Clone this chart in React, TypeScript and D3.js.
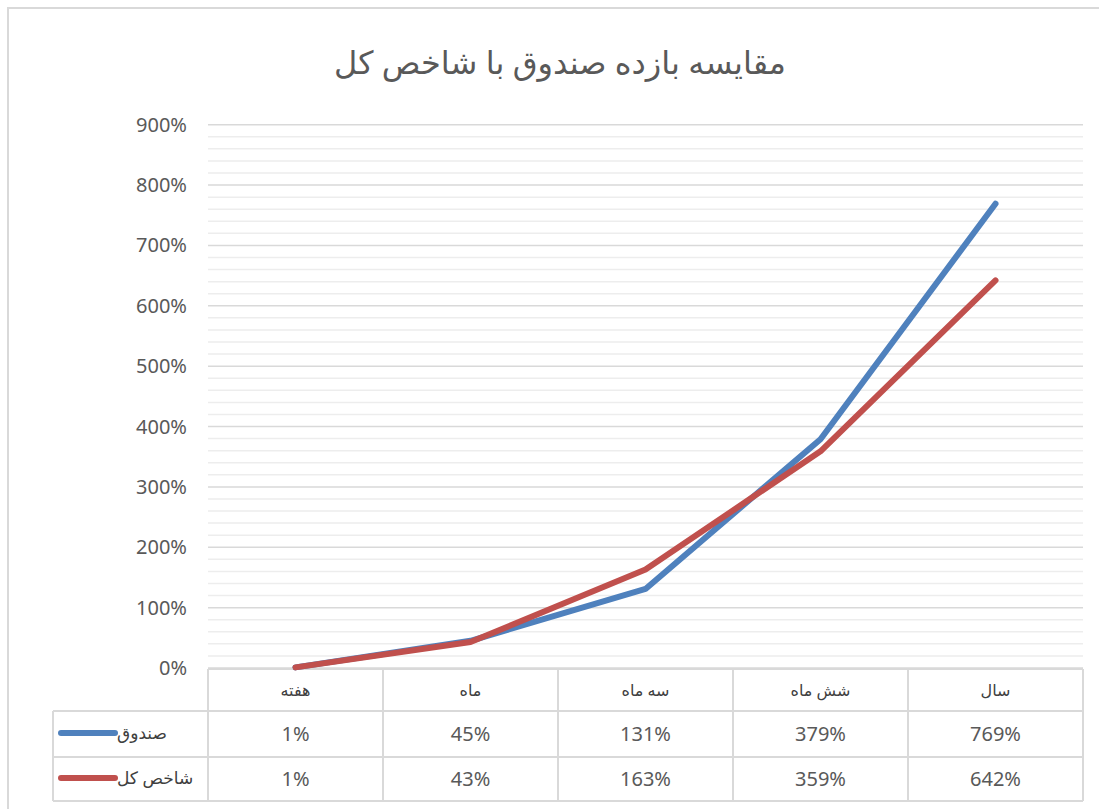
import * as d3 from "d3";
import React from "react";

const categories = ["هفته", "ماه", "سه ماه", "شش ماه", "سال"];
const fundValues = [1, 45, 131, 379, 769];
const indexValues = [1, 43, 163, 359, 642];
const seriesNames = ["صندوق", "شاخص کل"];
const seriesColors = ["#4f81bd", "#c0504d"];
const yTicks = [0, 100, 200, 300, 400, 500, 600, 700, 800, 900];
const title = "مقایسه بازده صندوق با شاخص کل";

const W = 1099;
const H = 809;
const plotLeft = 208;
const plotRight = 1083;
const plotTop = 124.7;
const plotBottom = 668;
const tableLeft = 53;
const rowEdges = [669, 711, 757, 801];

const font = "'Noto Sans', 'DejaVu Sans', sans-serif";

const App: React.FC = () => {
    const x = d3
        .scaleBand<string>()
        .domain(categories)
        .range([plotLeft, plotRight]);

    const y = d3.scaleLinear().domain([0, 900]).range([plotBottom, plotTop]);

    const minorTicks = d3.range(0, 901, 20).filter((v) => v % 100 !== 0);

    const line = d3
        .line<number>()
        .x((_, i) => (x(categories[i]) as number) + x.bandwidth() / 2)
        .y((d) => y(d));

    const series = [fundValues, indexValues];

    return (
        <svg
            width={W}
            height={H}
            style={{ position: "absolute", left: 0, top: 0, background: "#fff" }}
        >
            <rect x={8} y={8} width={W} height={H} fill="#fff" stroke="#d9d9d9" strokeWidth={2} />

            <text
                x={560}
                y={74}
                textAnchor="middle"
                fontSize={32}
                fill="#595959"
                fontFamily={font}
                direction="rtl"
            >
                {title}
            </text>

            {minorTicks.map((t) => (
                <line key={"m" + t} x1={plotLeft} x2={plotRight} y1={y(t)} y2={y(t)} stroke="#ededed" strokeWidth={1.5} />
            ))}
            {yTicks.map((t) => (
                <line key={"g" + t} x1={plotLeft} x2={plotRight} y1={y(t)} y2={y(t)} stroke="#d9d9d9" strokeWidth={1.5} />
            ))}
            {yTicks.map((t) => (
                <text
                    key={"t" + t}
                    x={187}
                    y={y(t)}
                    dy="0.35em"
                    textAnchor="end"
                    fontSize={20}
                    fill="#595959"
                    fontFamily={font}
                >
                    {t + "%"}
                </text>
            ))}

            {/* data table */}
            <g stroke="#d9d9d9" strokeWidth={2} fill="none">
                <line x1={plotLeft} x2={plotRight} y1={rowEdges[0]} y2={rowEdges[0]} />
                {rowEdges.slice(1).map((r) => (
                    <line key={"r" + r} x1={tableLeft} x2={plotRight} y1={r} y2={r} />
                ))}
                <line x1={tableLeft} x2={tableLeft} y1={rowEdges[1]} y2={rowEdges[3]} />
                {categories.map((c) => (
                    <line key={"c" + c} x1={x(c)} x2={x(c)} y1={rowEdges[0]} y2={rowEdges[3]} />
                ))}
                <line x1={plotRight} x2={plotRight} y1={rowEdges[0]} y2={rowEdges[3]} />
            </g>

            {categories.map((c) => (
                <text
                    key={"h" + c}
                    x={(x(c) as number) + x.bandwidth() / 2}
                    y={(rowEdges[0] + rowEdges[1]) / 2}
                    dy="0.35em"
                    textAnchor="middle"
                    fontSize={16}
                    fill="#404040"
                    fontFamily={font}
                    direction="rtl"
                >
                    {c}
                </text>
            ))}

            {series.map((vals, si) => {
                const cy = (rowEdges[si + 1] + rowEdges[si + 2]) / 2;
                return (
                    <g key={"row" + si}>
                        <line
                            x1={61}
                            x2={115}
                            y1={cy - 1}
                            y2={cy - 1}
                            stroke={seriesColors[si]}
                            strokeWidth={6}
                            strokeLinecap="round"
                        />
                        <text
                            x={117}
                            y={cy}
                            dy="0.3em"
                            textAnchor="end"
                            direction="rtl"
                            fontSize={17}
                            fill="#404040"
                            fontFamily={font}
                        >
                            {seriesNames[si]}
                        </text>
                        {vals.map((v, i) => (
                            <text
                                key={"v" + i}
                                x={(x(categories[i]) as number) + x.bandwidth() / 2}
                                y={cy}
                                dy="0.35em"
                                textAnchor="middle"
                                fontSize={20}
                                fill="#595959"
                                fontFamily={font}
                            >
                                {v + "%"}
                            </text>
                        ))}
                    </g>
                );
            })}

            {series.map((vals, si) => (
                <path
                    key={"s" + si}
                    d={line(vals) as string}
                    fill="none"
                    stroke={seriesColors[si]}
                    strokeWidth={6}
                    strokeLinecap="round"
                    strokeLinejoin="round"
                />
            ))}
        </svg>
    );
};

export default App;
